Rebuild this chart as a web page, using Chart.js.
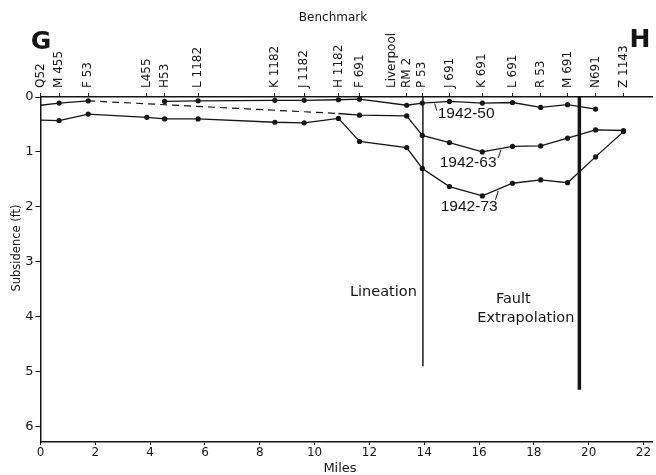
<!DOCTYPE html>
<html>
<head>
<meta charset="utf-8">
<title>Subsidence profile G-H</title>
<script src="https://cdn.jsdelivr.net/npm/chart.js@4"></script>
<style>
  html, body { margin: 0; padding: 0; background: #fff; }
  #wrap { width: 656px; height: 475px; }
</style>
</head>
<body>
<div id="wrap"><canvas id="profileChart" width="656" height="475"></canvas></div>
<script>
// benchmarks along the profile, and their distance from G in miles
const benchmarks = ['Q52', 'M 455', 'F 53', 'L455', 'H53', 'L 1182', 'K 1182', 'J 1182', 'H 1182', 'F 691',
  ['Liverpool', 'RM 2'], 'P 53', 'J 691', 'K 691', 'L 691', 'R 53', 'M 691', 'N691', 'Z 1143'];
const benchmarkMiles = [0, 0.68, 1.74, 3.88, 4.53, 5.75, 8.55, 9.62, 10.87, 11.64,
  13.36, 13.93, 14.92, 16.12, 17.22, 18.25, 19.23, 20.25, 21.27];

// subsidence in feet at each benchmark (null = not surveyed)
const sub1950 = [0.15, 0.11, 0.07, null, 0.08, 0.07, 0.06, 0.06, 0.05, 0.04,
  0.15, 0.11, 0.08, 0.11, 0.10, 0.19, 0.14, 0.22, null];
const sub1963 = [null, null, null, null, null, null, null, null, 0.30, 0.33,
  0.345, 0.70, 0.83, 1.00, 0.90, 0.89, 0.75, 0.60, 0.61];
const sub1973 = [0.42, 0.43, 0.31, 0.37, 0.40, 0.40, 0.46, 0.47, 0.39, 0.81,
  0.92, 1.30, 1.63, 1.80, 1.57, 1.51, 1.56, 1.09, 0.63];

// estimated (dashed) part of 1942-63, from F 53 to H 1182
const est1963Miles = [1.74, 10.87];
const est1963 = [0.07, 0.30];

// lineation and fault extrapolation lines: mile, depth reached (ft)
const lineationMile = 13.95;
const lineationDepth = 4.9;
const faultMile = 19.66;
const faultDepth = 5.33;

const mileTicks = [0, 2, 4, 6, 8, 10, 12, 14, 16, 18, 20, 22];
const footTicks = [0, 1, 2, 3, 4, 5, 6];

// curve labels: text, mile, ft, leader line [x1, y1, x2, y2]
const curveLabels = [
  ['1942-50', 15.53, 0.31, [14.38, 0.12, 14.46, 0.25]],
  ['1942-63', 15.6, 1.2, [16.8, 0.96, 16.7, 1.11]],
  ['1942-73', 15.64, 2.0, [16.7, 1.71, 16.6, 1.87]]
];

const ink = '#151515';

function pts(miles, vals) {
  return miles.map((m, i) => ({ x: m, y: vals[i] }));
}

// no dot where a line starts from the axis, nor where 1942-63 leaves the dashed part
function dotRadius(ctx) {
  const d = ctx.dataset.data;
  const i = ctx.dataIndex;
  if (i === 0) return 0;
  if (ctx.dataset.noDotAfterGap && d[i - 1].y === null) return 0;
  return 2.6;
}

const textPlugin = {
  id: 'profileText',
  afterDraw(chart) {
    const c = chart.ctx;
    const xs = chart.scales.x, ys = chart.scales.y;
    c.save();
    c.fillStyle = ink;
    c.strokeStyle = ink;
    c.textBaseline = 'middle';

    c.textAlign = 'center';
    c.font = 'bold 25px "DejaVu Sans"';
    c.fillText('G', 41, 42);
    c.fillText('H', 640, 40);

    c.font = '12px "DejaVu Sans"';
    c.fillText('Benchmark', 333, 18);

    c.font = '13px "DejaVu Sans"';
    c.fillText('Miles', 340, 469);

    c.save();
    c.translate(17, 248);
    c.rotate(-Math.PI / 2);
    c.font = '11.5px "DejaVu Sans"';
    c.fillText('Subsidence (ft)', 0, 0);
    c.restore();

    c.font = '15.5px "Liberation Sans"';
    c.lineWidth = 1;
    curveLabels.forEach(([t, mx, fy, lead]) => {
      c.fillText(t, xs.getPixelForValue(mx), ys.getPixelForValue(fy));
      c.beginPath();
      c.moveTo(xs.getPixelForValue(lead[0]), ys.getPixelForValue(lead[1]));
      c.lineTo(xs.getPixelForValue(lead[2]), ys.getPixelForValue(lead[3]));
      c.stroke();
    });

    c.font = '14.5px "DejaVu Sans"';
    c.textAlign = 'right';
    c.fillText('Lineation', xs.getPixelForValue(lineationMile) - 6, ys.getPixelForValue(3.55));
    c.textAlign = 'center';
    c.fillText('Fault', xs.getPixelForValue(17.25), ys.getPixelForValue(3.69));
    c.textAlign = 'right';
    c.fillText('Extrapolation', xs.getPixelForValue(faultMile) - 5, ys.getPixelForValue(4.02));
    c.restore();
  }
};

const ctx = document.getElementById('profileChart').getContext('2d');

new Chart(ctx, {
  type: 'line',
  data: {
    datasets: [
      {
        label: '1942-50', data: pts(benchmarkMiles, sub1950),
        borderColor: ink, borderWidth: 1.3, pointBackgroundColor: ink, pointBorderWidth: 0,
        pointRadius: dotRadius, spanGaps: false
      },
      {
        label: '1942-63 est.', data: pts(est1963Miles, est1963),
        borderColor: ink, borderWidth: 1.2, borderDash: [7, 5], pointRadius: 0
      },
      {
        label: '1942-63', data: pts(benchmarkMiles, sub1963), noDotAfterGap: true,
        borderColor: ink, borderWidth: 1.3, pointBackgroundColor: ink, pointBorderWidth: 0,
        pointRadius: dotRadius, spanGaps: false
      },
      {
        label: '1942-73', data: pts(benchmarkMiles, sub1973),
        borderColor: ink, borderWidth: 1.3, pointBackgroundColor: ink, pointBorderWidth: 0,
        pointRadius: dotRadius
      },
      {
        label: 'Lineation', data: pts([lineationMile, lineationMile], [0, lineationDepth]),
        borderColor: '#333', borderWidth: 1, pointRadius: 0
      },
      {
        label: 'Fault', data: pts([faultMile, faultMile], [0, faultDepth]),
        borderColor: ink, borderWidth: 3.5, pointRadius: 0
      }
    ]
  },
  options: {
    responsive: false,
    animation: false,
    layout: { padding: 0 },
    plugins: { legend: { display: false }, tooltip: { enabled: false } },
    scales: {
      x: {
        type: 'linear', position: 'bottom', min: 0, max: 22.31,
        afterBuildTicks: s => { s.ticks = mileTicks.map(v => ({ value: v })); },
        afterFit: s => { s.height = 33; },
        grid: { drawOnChartArea: false, tickLength: 3, color: ink },
        border: { color: ink, width: 1.5 },
        ticks: { color: ink, font: { family: 'DejaVu Sans', size: 12 }, padding: 1, maxRotation: 0, autoSkip: false }
      },
      x2: {
        type: 'linear', position: 'top', min: 0, max: 22.31,
        afterBuildTicks: s => { s.ticks = benchmarkMiles.map(v => ({ value: v })); },
        afterFit: s => { s.height = 97; },
        grid: { drawOnChartArea: false, tickLength: 4, color: ink },
        border: { color: ink, width: 1.5 },
        ticks: {
          color: ink, font: { family: 'DejaVu Sans', size: 12 }, padding: 5,
          minRotation: 90, maxRotation: 90, autoSkip: false, labelOffset: 14.4,
          callback: (v, i) => benchmarks[i]
        }
      },
      y: {
        type: 'linear', reverse: true, min: 0, max: 6.28,
        afterBuildTicks: s => { s.ticks = footTicks.map(v => ({ value: v })); },
        afterFit: s => { s.width = 40.5; },
        grid: { drawOnChartArea: false, tickLength: 5, color: ink },
        border: { color: ink, width: 1.5 },
        ticks: { color: ink, font: { family: 'DejaVu Sans', size: 13 }, padding: 2 }
      }
    }
  },
  plugins: [textPlugin]
});
</script>
</body>
</html>
